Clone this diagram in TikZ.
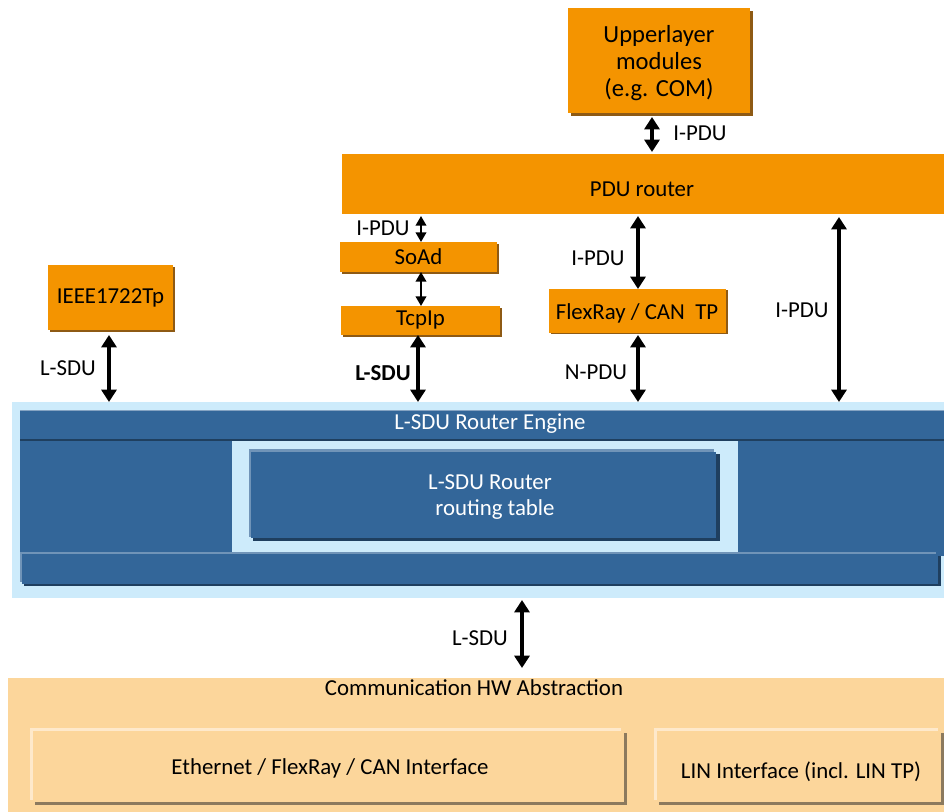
\documentclass[tikz,border=0pt]{standalone}
\usepackage{fontspec}
\setmainfont{Carlito}
\usetikzlibrary{arrows.meta,calc}
\definecolor{org}{HTML}{F49400}
\definecolor{orgsh}{HTML}{8E5A14}
\definecolor{lblue}{HTML}{CDEBFB}
\definecolor{dblue}{HTML}{336699}
\definecolor{dbsh}{HTML}{1F3F5F}
\definecolor{hwbg}{HTML}{FCD69B}
\definecolor{hwsh}{HTML}{8C7A5E}
\definecolor{hwhi}{HTML}{FEE9CB}
\tikzset{
  x=0.02cm, y=-0.02cm,
  every node/.style={font=\fontsize{13}{15}\selectfont, inner sep=0pt, outer sep=0pt},
  sz/.style 2 args={minimum width=#1*0.02cm, minimum height=#2*0.02cm},
  obox/.style={fill=org, align=center, text=black},
  shad/.style={fill=orgsh},
  dar/.style={line width=1.8pt, {Triangle[length=7pt,width=8.5pt]}-{Triangle[length=7pt,width=8.5pt]}},
  tar/.style={line width=1.2pt, {Triangle[length=5.5pt,width=6pt]}-{Triangle[length=5.5pt,width=6pt]}},
  lbl/.style={text=black},
  wt/.style={text=white},
}
\begin{document}
\begin{tikzpicture}
\useasboundingbox (0,0) rectangle (944,812);
% Upper layer
\fill[shad] (571,11) rectangle (753,116);
\node[obox, sz={182}{105}] (upper) at (659,60.5) {};
\node[lbl, align=center, font=\fontsize{14}{15.6}\selectfont] (uppert) at (659,63) {Upperlayer\\modules\\(e.g. COM)};
% PDU router
\node[obox, sz={602}{60}] (pdu) at (643,184) {};
\node[lbl] (pdut) at (642,189) {PDU router};
% SoAd
\fill[shad] (342,244) rectangle (499,274);
\node[obox, sz={157}{30}] (soad) at (418.5,257) {SoAd};
% TcpIp
\fill[shad] (343,308) rectangle (502,337);
\node[obox, sz={159}{29}] (tcpip) at (420.5,320.5) {TcpIp};
% FlexRay / CAN TP
\fill[shad] (551,290) rectangle (728,334);
\node[obox, sz={177}{44}] (frtp) at (637.5,311) {};
\node[lbl] (frtpt) at (637,313) {FlexRay / CAN\ \ TP};
% IEEE1722Tp
\fill[shad] (50,267) rectangle (175,332);
\node[obox, sz={125}{65}] (ieee) at (110.5,297.5) {IEEE1722Tp};

% L-SDU Router block
\node[fill=lblue, sz={932}{196}] (outer) at (478,500) {};
\fill[dblue] (20,410) rectangle (944,556);
\draw[dblue!60!white, line width=0.8pt] (20,410.5) -- (944,410.5);
\draw[dbsh, line width=0.8pt] (20,440) -- (944,440);
\node[wt] (engine) at (490,424) {L-SDU Router Engine};
\node[fill=lblue, sz={506}{111}] (window) at (485,496.5) {};
\fill[dbsh] (253,454) rectangle (720,541);
\fill[dblue!70!white] (249,449) rectangle (714,537);
\node[fill=dblue, sz={465}{86}] (rtable) at (483.5,495) {};
\node[wt] (rt1) at (490,482) {L-SDU Router};
\node[wt] (rt2) at (495,510) {routing table};
\fill[dbsh] (24,556) rectangle (941,586);
\fill[dblue!70!white] (20,552) rectangle (936,582);
\node[fill=dblue, sz={916}{30}] (bar) at (480,569) {};

% Comm HW abstraction
\node[fill=hwbg, sz={936}{134}] (hw) at (476,745) {};
\node[lbl] (hwt) at (474,688) {Communication HW Abstraction};
\fill[hwsh] (35,733) rectangle (627,805);
\fill[hwhi] (30,728) rectangle (621,800);
\node[fill=hwbg, sz={591}{71}] (eth) at (328.5,766.5) {};
\node[lbl] (etht) at (330,768) {Ethernet / FlexRay / CAN Interface};
\fill[hwsh] (659,733) rectangle (944,805);
\fill[hwhi] (654,728) rectangle (938,800);
\node[fill=hwbg, sz={284}{71}] (lin) at (799,766.5) {};
\node[lbl] (lint) at (801,772) {LIN Interface (incl. LIN TP)};

% Arrows
\draw[dar] (652,0 |- upper.south) ++(0,4) -- (652,152);
\node[lbl] (l1) at (700,133) {I-PDU};
\draw[tar] (421,0 |- pdu.south) ++(0,2) -- (421,0 |- soad.north);
\node[lbl] (l2) at (383,228) {I-PDU};
\draw[tar] (421,0 |- soad.south) -- (421,0 |- tcpip.north);
\draw[dar] (418,0 |- tcpip.south) -- (418,0 |- outer.north);
\node[lbl, font=\fontsize{13}{15}\selectfont\bfseries] (l3) at (383,373) {L-SDU};
\draw[dar] (638,0 |- pdu.south) ++(0,2) -- (638,0 |- frtp.north);
\node[lbl] (l4) at (598,258) {I-PDU};
\draw[dar] (638,0 |- frtp.south) ++(0,2) -- (638,0 |- outer.north);
\node[lbl] (l5) at (596,372) {N-PDU};
\draw[dar] (839,0 |- pdu.south) ++(0,3) -- (839,0 |- outer.north);
\node[lbl] (l6) at (802,310) {I-PDU};
\draw[dar] (109,0 |- ieee.south) ++(0,5) -- (109,0 |- outer.north);
\node[lbl] (l7) at (68,368) {L-SDU};
\draw[dar] (522,0 |- outer.south) ++(0,2) -- (522,668);
\node[lbl] (l8) at (480,638) {L-SDU};
\end{tikzpicture}
\end{document}
